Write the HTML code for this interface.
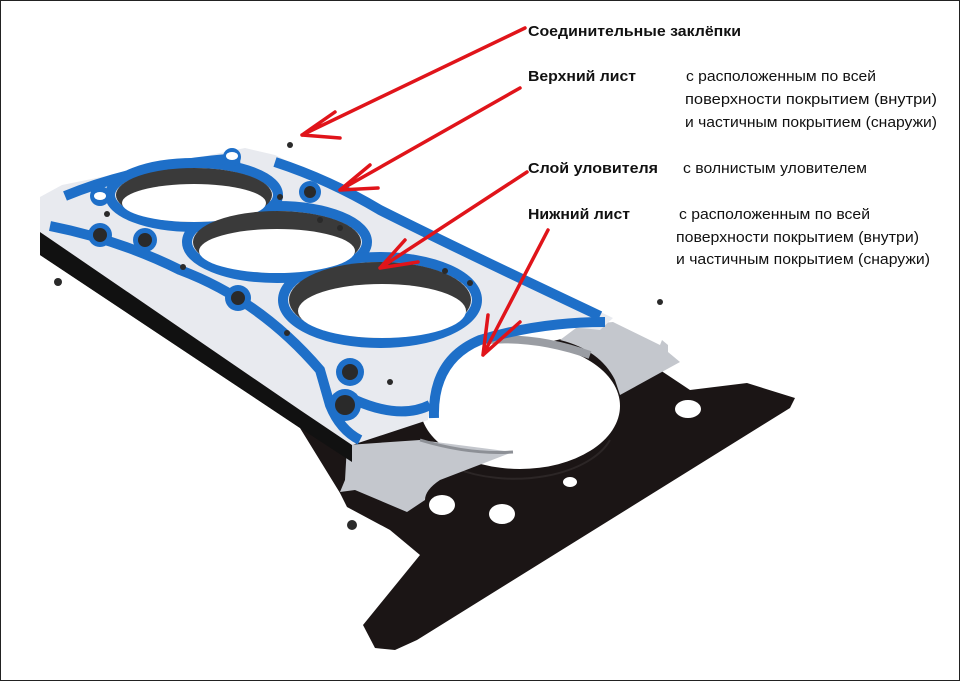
<!DOCTYPE html>
<html><head><meta charset="utf-8"><style>
html,body{margin:0;padding:0;background:#fff;}
svg{display:block;}
text{font-family:"Liberation Sans",sans-serif;font-size:15px;fill:#111;}
.b{font-weight:bold;}
</style></head><body>
<svg width="960" height="681" viewBox="0 0 960 681">
<rect x="0.5" y="0.5" width="959" height="680" fill="#fff" stroke="#222" stroke-width="1"/>
<!-- black bottom layer -->
<path d="M600,330 L690,390 L747,383 L795,398 L790,408 L417,640 L395,650 L375,648 L363,625 L420,555 L390,530 L347,507 L340,493 L300,428 L40,255 L40,232 L300,400 Z" fill="#1b1515"/>
<ellipse cx="520" cy="406" rx="100" ry="63" fill="#fff"/>
<path d="M455,468 A100,55 0 0 0 610,440" fill="none" stroke="#2c2626" stroke-width="2"/>
<ellipse cx="688" cy="409" rx="13" ry="9" fill="#fff"/>
<ellipse cx="502" cy="514" rx="13" ry="10" fill="#fff"/>
<ellipse cx="442" cy="505" rx="13" ry="10" fill="#fff"/>
<ellipse cx="570" cy="482" rx="7" ry="5" fill="#fff"/>
<!-- silver layer -->
<path d="M580,325 L613,322 L660,345 L662,340 L668,345 L668,352 L680,362 L620,395 L615,380 Q600,350 560,340 Z" fill="#c4c7cd"/>
<path d="M347,445 L420,440 L513,452 L440,480 Q425,490 425,500 L407,512 L355,490 L340,492 L345,480 Z" fill="#c4c7cd"/>
<path d="M420,440 Q470,455 513,452" fill="none" stroke="#8d9096" stroke-width="3"/>
<path d="M455,345 Q520,330 590,355" fill="none" stroke="#9a9da3" stroke-width="8"/>
<!-- top layer thickness -->
<polygon points="40,232 300,410 352,445 352,462 300,428 40,255" fill="#111"/>
<!-- top layer -->
<path d="M40,197 L62,185 L245,148 L275,155 L613,318 L600,330 Q520,320 470,345 Q430,375 428,420 L352,445 L300,410 L40,232 Z" fill="#e8eaef"/>
<g fill="none" stroke="#1e6fc8" stroke-width="10">
<ellipse cx="194" cy="195" rx="84" ry="32"/>
<ellipse cx="277" cy="242" rx="90" ry="36"/>
<ellipse cx="380" cy="300" rx="97" ry="43"/>
<path d="M434,418 Q432,360 480,340 Q540,322 605,322"/>
<path d="M65,196 Q140,165 240,158 M275,162 Q330,180 380,210 Q460,250 600,316"/>
<path d="M50,226 Q120,240 180,270 Q260,300 320,370 L330,405 Q340,430 360,440 M355,400 Q400,420 430,405"/>
</g>
<g fill="#1e6fc8"><circle cx="100" cy="196" r="10"/><circle cx="232" cy="157" r="9"/><circle cx="310" cy="192" r="11"/><circle cx="100" cy="235" r="12"/><circle cx="145" cy="240" r="12"/><circle cx="238" cy="298" r="13"/><circle cx="350" cy="372" r="14"/><circle cx="345" cy="405" r="16"/></g>
<g fill="#fff"><ellipse cx="100" cy="196" rx="6" ry="4"/><ellipse cx="232" cy="156" rx="6" ry="4"/></g>
<ellipse cx="194" cy="195" rx="78" ry="27" fill="#3a3a3a"/>
<ellipse cx="194" cy="203" rx="72" ry="19" fill="#fff"/>
<ellipse cx="277" cy="242" rx="84" ry="31" fill="#3a3a3a"/>
<ellipse cx="277" cy="251" rx="78" ry="22" fill="#fff"/>
<ellipse cx="380" cy="300" rx="91" ry="38" fill="#3a3a3a"/>
<ellipse cx="382" cy="311" rx="84" ry="27" fill="#fff"/>
<g fill="#2a2a2a">
<circle cx="310" cy="192" r="6"/><circle cx="100" cy="235" r="7"/><circle cx="145" cy="240" r="7"/>
<circle cx="238" cy="298" r="7"/><circle cx="350" cy="372" r="8"/><circle cx="345" cy="405" r="10"/>
<circle cx="107" cy="214" r="3"/><circle cx="280" cy="197" r="3"/><circle cx="320" cy="220" r="3"/><circle cx="340" cy="228" r="3"/><circle cx="183" cy="267" r="3"/><circle cx="287" cy="333" r="3"/><circle cx="390" cy="382" r="3"/><circle cx="445" cy="271" r="3"/><circle cx="470" cy="283" r="3"/>
<circle cx="290" cy="145" r="3"/><circle cx="660" cy="302" r="3"/><circle cx="352" cy="525" r="5"/><circle cx="58" cy="282" r="4"/>
</g>
<!-- arrows -->
<g stroke="#e0141a" stroke-width="3.5" fill="none" stroke-linecap="round">
<path d="M525,28 L302,135 M302,135 L335,112 M302,135 L340,138"/>
<path d="M520,88 L340,190 M340,190 L370,165 M340,190 L378,188"/>
<path d="M527,172 L380,268 M380,268 L405,240 M380,268 L418,262"/>
<path d="M548,230 L483,355 M483,355 L488,315 M483,355 L520,322"/>
</g>
<!-- labels -->
<text class="b" x="528" y="36" textLength="213" lengthAdjust="spacingAndGlyphs">Соединительные заклёпки</text>
<text class="b" x="528" y="81" textLength="108" lengthAdjust="spacingAndGlyphs">Верхний лист</text>
<text x="686" y="81" textLength="190" lengthAdjust="spacingAndGlyphs">с расположенным по всей</text>
<text x="685" y="104" textLength="252" lengthAdjust="spacingAndGlyphs">поверхности покрытием (внутри)</text>
<text x="685" y="127" textLength="252" lengthAdjust="spacingAndGlyphs">и частичным покрытием (снаружи)</text>
<text class="b" x="528" y="173" textLength="130" lengthAdjust="spacingAndGlyphs">Слой уловителя</text>
<text x="683" y="173" textLength="184" lengthAdjust="spacingAndGlyphs">с волнистым уловителем</text>
<text class="b" x="528" y="219" textLength="102" lengthAdjust="spacingAndGlyphs">Нижний лист</text>
<text x="679" y="219" textLength="191" lengthAdjust="spacingAndGlyphs">с расположенным по всей</text>
<text x="676" y="242" textLength="243" lengthAdjust="spacingAndGlyphs">поверхности покрытием (внутри)</text>
<text x="676" y="264" textLength="254" lengthAdjust="spacingAndGlyphs">и частичным покрытием (снаружи)</text>
</svg>
</body></html>
